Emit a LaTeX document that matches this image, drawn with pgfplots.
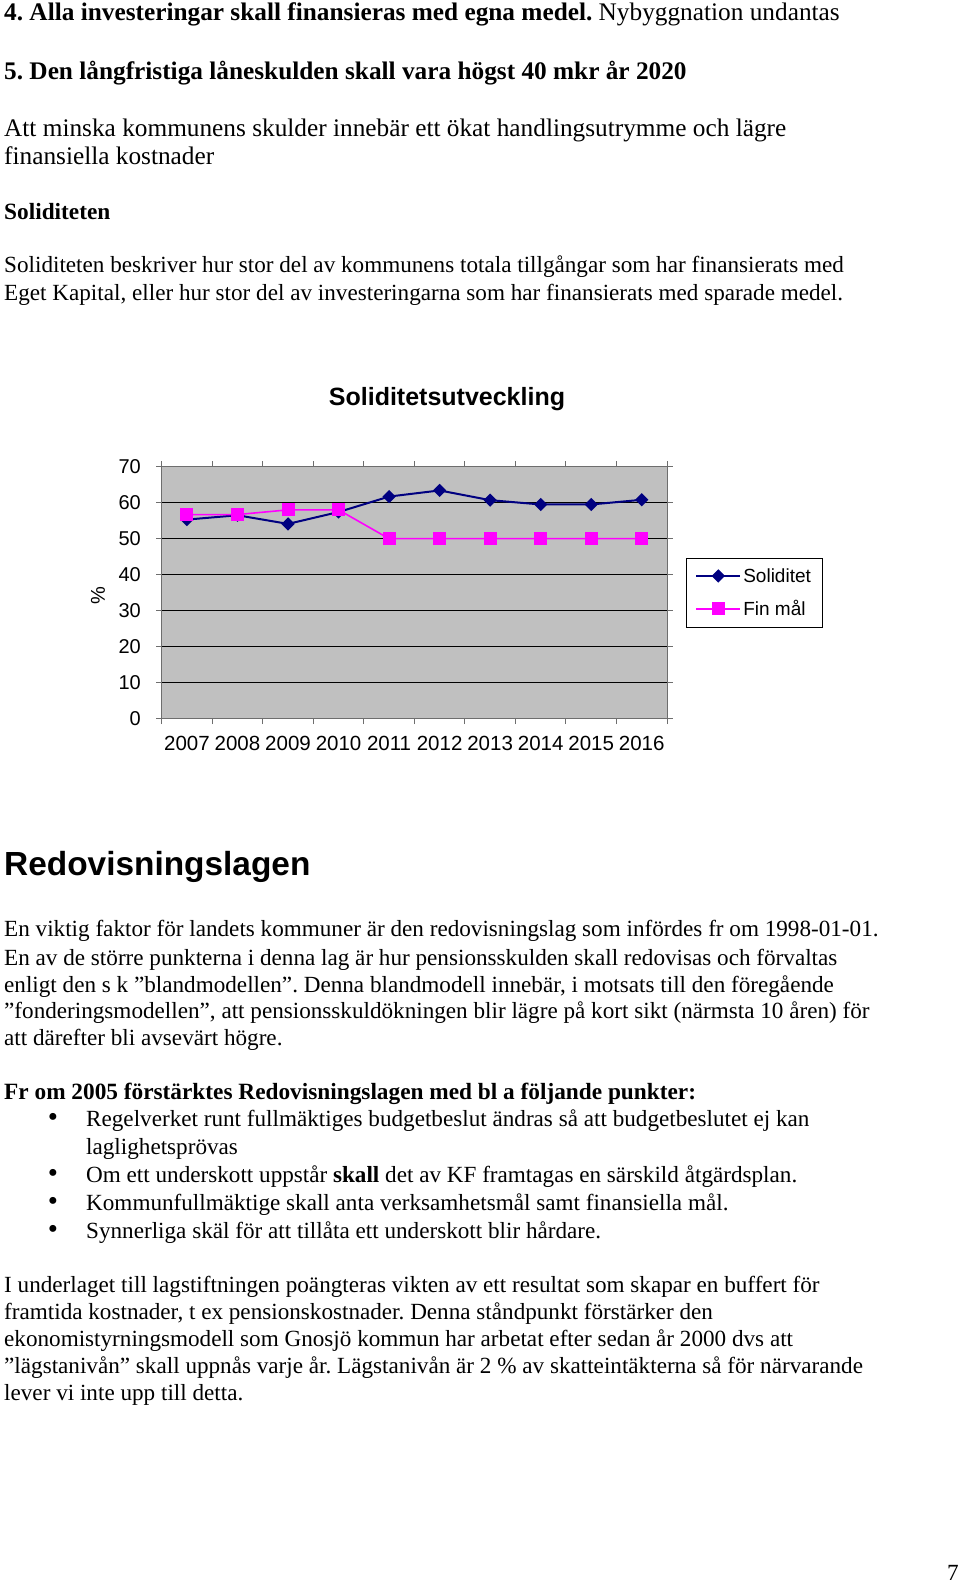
\documentclass[border=0pt]{standalone}
\usepackage{fontspec}
\setmainfont{Liberation Serif}
\newfontfamily\arial{Liberation Sans}
\usepackage{pgfplots}
\pgfplotsset{compat=1.18}
\definecolor{navyc}{RGB}{0,0,128}
\definecolor{magc}{RGB}{255,0,255}
\definecolor{plotgray}{RGB}{192,192,192}
\definecolor{framegray}{RGB}{110,110,110}
\newcommand\bodyfont{\fontsize{23.15}{27.2}\selectfont}
\newcommand\boldfont{\fontsize{23.3}{27.2}\selectfont\bfseries}
\newcommand\bigfont{\fontsize{25.3}{28.3}\selectfont}

\pgfplotstableread{
x sol fin
1 55.3 56.7
2 56.5 56.7
3 54.1 58.0
4 57.4 58.0
5 61.7 50.0
6 63.4 50.0
7 60.7 50.0
8 59.5 50.0
9 59.5 50.0
10 60.8 50.0
}\soldata

\begin{document}
\frenchspacing
\begin{tikzpicture}
\begin{scope}[x=1pt,y=-1pt, tx/.style={anchor=base west, inner sep=0pt, font=\bodyfont}]
\path[fill=white] (0,0) rectangle (960,1584);
\node[tx, font=\bigfont] at (4,20.7) {\textbf{4. Alla investeringar skall finansieras med egna medel.} Nybyggnation undantas};
\node[tx, font=\bigfont\bfseries] at (4,79.3) {5. Den långfristiga låneskulden skall vara högst 40 mkr år 2020};
\node[tx, font=\bigfont] at (4,136.5) {Att minska kommunens skulder innebär ett ökat handlingsutrymme och lägre};
\node[tx, font=\bigfont] at (4,164.8) {finansiella kostnader};
\node[tx, font=\boldfont] at (4,219) {Soliditeten};
\node[tx] at (4,272.7) {Soliditeten beskriver hur stor del av kommunens totala tillgångar som har finansierats med};
\node[tx] at (4,300) {Eget Kapital, eller hur stor del av investeringarna som har finansierats med sparade medel.};

\node[anchor=base west, inner sep=0pt, font=\arial\bfseries\fontsize{33.4}{33.4}\selectfont] at (4,875) {Redovisningslagen};

\node[tx] at (4,936.7) {En viktig faktor för landets kommuner är den redovisningslag som infördes fr om 1998-01-01.};
\node[tx] at (4,965) {En av de större punkterna i denna lag är hur pensionsskulden skall redovisas och förvaltas};
\node[tx] at (4,992) {enligt den s k ”blandmodellen”. Denna blandmodell innebär, i motsats till den föregående};
\node[tx] at (4,1018.5) {”fonderingsmodellen”, att pensionsskuldökningen blir lägre på kort sikt (närmsta 10 åren) för};
\node[tx] at (4,1045.8) {att därefter bli avsevärt högre.};

\node[tx, font=\boldfont] at (4,1099.4) {Fr om 2005 förstärktes Redovisningslagen med bl a följande punkter:};
\foreach \yy in {1126.6,1182.2,1210.5,1238.8} {\node[anchor=base, inner sep=0pt, font=\fontsize{29}{29}\selectfont] at (53,\yy) {•};}
\node[tx] at (86,1126.6) {Regelverket runt fullmäktiges budgetbeslut ändras så att budgetbeslutet ej kan};
\node[tx] at (86,1154) {laglighetsprövas};
\node[tx] at (86,1182.2) {Om ett underskott uppstår \textbf{skall} det av KF framtagas en särskild åtgärdsplan.};
\node[tx] at (86,1210.5) {Kommunfullmäktige skall anta verksamhetsmål samt finansiella mål.};
\node[tx] at (86,1238.8) {Synnerliga skäl för att tillåta ett underskott blir hårdare.};

\node[tx] at (4,1292.4) {I underlaget till lagstiftningen poängteras vikten av ett resultat som skapar en buffert för};
\node[tx] at (4,1319.6) {framtida kostnader, t ex pensionskostnader. Denna ståndpunkt förstärker den};
\node[tx] at (4,1346.9) {ekonomistyrningsmodell som Gnosjö kommun har arbetat efter sedan år 2000 dvs att};
\node[tx] at (4,1373.2) {”lägstanivån” skall uppnås varje år. Lägstanivån är 2 \% av skatteintäkterna så för närvarande};
\node[tx] at (4,1400.5) {lever vi inte upp till detta.};

\node[anchor=base east, inner sep=0pt, font=\bodyfont] at (959,1580) {7};
\end{scope}

\begin{axis}[
  at={(161.7pt,-718.5pt)}, anchor=south west,
  scale only axis, width=505.3pt, height=251.8pt,
  xmin=0.5, xmax=10.5, ymin=0, ymax=70,
  axis background/.style={fill=plotgray},
  axis line style={draw=framegray, line width=0.9pt},
  xtick={1,...,10},
  xticklabels={2007,2008,2009,2010,2011,2012,2013,2014,2015,2016},
  major x tick style={draw=none},
  minor xtick={0.5,1.5,...,10.5},
  minor x tick style={draw=framegray, line width=0.9pt},
  ytick={0,10,...,70},
  major y tick style={draw=framegray, line width=0.9pt},
  ymajorgrids, major grid style={black, line width=0.9pt},
  tick align=outside, major tick length=5.7pt, minor tick length=5.7pt,
  /pgf/number format/assume math mode=true,
  yticklabel style={font=\arial\fontsize{20}{20}\selectfont, anchor=east, inner sep=0pt, xshift=-15pt},
  xticklabel style={font=\arial\fontsize{20.5}{20.5}\selectfont, anchor=north, inner sep=0pt, yshift=-12pt},
  ylabel={\%},
  ylabel style={font=\arial\fontsize{20}{20}\selectfont, at={(axis description cs:-0.126,0.4865)}, anchor=center},
  title={Soliditetsutveckling},
  title style={font=\arial\bfseries\fontsize{25}{25}\selectfont, at={(axis description cs:0.5646,1.221)}, anchor=base, inner sep=0pt},
  legend style={at={(axis description cs:1.0376,0.6374)}, anchor=north west, draw=black, line width=0.6pt, fill=white,
    font=\arial\fontsize{19}{19}\selectfont, inner xsep=9pt, inner ysep=8pt, row sep=13pt, cells={anchor=west}},
  legend image code/.code={\draw[mark repeat=2,mark phase=2,#1] plot coordinates {(0pt,0pt) (22pt,0pt) (44pt,0pt)};},
  clip=false,
]
\addplot[navyc, line width=2pt, mark=square*, mark size=3.7pt, mark options={rotate=45, solid}] table[x=x, y=sol] {\soldata};
\addlegendentry{Soliditet}
\addplot[magc, line width=1.6pt, mark=square*, mark size=5.7pt, mark options={solid}] table[x=x, y=fin] {\soldata};
\addlegendentry{Fin mål}
\end{axis}
\end{tikzpicture}
\end{document}
